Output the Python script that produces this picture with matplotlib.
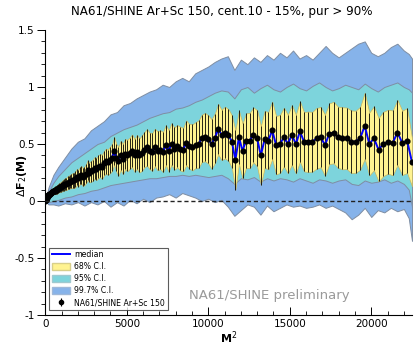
import numpy as np
import matplotlib
matplotlib.use("Agg")
import matplotlib.pyplot as plt
from matplotlib.lines import Line2D
from matplotlib.patches import Patch

# ---- data ----
m_bins = np.arange(1, 151)          # number of bins per dimension M
f2_data = [
    0.00, 0.005, 0.01, 0.01, 0.015, 0.02, 0.02, 0.025, 0.03, 0.035,
    0.04, 0.045, 0.05, 0.05, 0.055, 0.06, 0.065, 0.07, 0.07, 0.075,
    0.08, 0.085, 0.09, 0.09, 0.095, 0.10, 0.10, 0.11, 0.115, 0.12,
    0.125, 0.13, 0.14, 0.14, 0.15, 0.15, 0.16, 0.165, 0.17, 0.175,
    0.18, 0.18, 0.19, 0.21, 0.20, 0.22, 0.23, 0.21, 0.22, 0.24,
    0.27, 0.25, 0.26, 0.27, 0.29, 0.28, 0.30, 0.31, 0.30, 0.33,
    0.35, 0.34, 0.36, 0.38, 0.44, 0.38, 0.35, 0.40, 0.37, 0.41,
    0.40, 0.42, 0.44, 0.40, 0.43, 0.40, 0.42, 0.45, 0.47, 0.44,
    0.43, 0.47, 0.44, 0.45, 0.43, 0.49, 0.44, 0.50, 0.46, 0.48,
    0.46, 0.45, 0.51, 0.48, 0.47, 0.49, 0.50, 0.55, 0.56, 0.54,
    0.50, 0.55, 0.63, 0.58, 0.60, 0.58, 0.52, 0.36, 0.56, 0.44,
    0.53, 0.53, 0.58, 0.55, 0.40, 0.54, 0.53, 0.62, 0.49, 0.50,
    0.56, 0.50, 0.58, 0.50, 0.61, 0.52, 0.52, 0.52, 0.55, 0.56,
    0.49, 0.59, 0.60, 0.56, 0.55, 0.55, 0.52, 0.52, 0.55, 0.66,
    0.50, 0.55, 0.45, 0.50, 0.52, 0.51, 0.60, 0.51, 0.53, 0.34,
]
f2_err = [
    0.003, 0.004, 0.005, 0.006, 0.007, 0.008, 0.009, 0.010, 0.011, 0.012,
    0.013, 0.014, 0.015, 0.016, 0.018, 0.019, 0.020, 0.022, 0.023, 0.025,
    0.026, 0.028, 0.030, 0.031, 0.033, 0.035, 0.036, 0.038, 0.040, 0.042,
    0.044, 0.046, 0.048, 0.050, 0.052, 0.054, 0.056, 0.058, 0.060, 0.062,
    0.064, 0.066, 0.069, 0.070, 0.073, 0.074, 0.077, 0.078, 0.081, 0.082,
    0.086, 0.087, 0.090, 0.091, 0.095, 0.096, 0.100, 0.101, 0.105, 0.106,
    0.110, 0.111, 0.116, 0.117, 0.122, 0.121, 0.128, 0.127, 0.133, 0.133,
    0.138, 0.137, 0.143, 0.143, 0.149, 0.149, 0.155, 0.154, 0.160, 0.160,
    0.165, 0.164, 0.171, 0.170, 0.176, 0.175, 0.182, 0.181, 0.186, 0.185,
    0.192, 0.191, 0.196, 0.196, 0.202, 0.201, 0.207, 0.207, 0.212, 0.211,
    0.217, 0.217, 0.222, 0.221, 0.227, 0.226, 0.231, 0.260, 0.234, 0.240,
    0.238, 0.243, 0.241, 0.246, 0.258, 0.248, 0.252, 0.252, 0.256, 0.254,
    0.258, 0.256, 0.261, 0.258, 0.264, 0.260, 0.265, 0.262, 0.266, 0.264,
    0.268, 0.266, 0.270, 0.268, 0.272, 0.270, 0.274, 0.272, 0.276, 0.290,
    0.276, 0.280, 0.278, 0.282, 0.280, 0.284, 0.286, 0.282, 0.284, 0.210,
]
f2_median = list(f2_data)

band_x = [0, 200, 500, 800, 1200, 1600, 2000, 2400, 2800, 3200, 3600, 4000,
          4400, 4800, 5200, 5600, 6000, 6400, 6800, 7200, 7600, 8000, 8400,
          8800, 9200, 9600, 10000, 10400, 10800, 11200, 11600, 12000, 12400,
          12800, 13200, 13600, 14000, 14400, 14800, 15200, 15600, 16000,
          16400, 16800, 17200, 17600, 18000, 18400, 18800, 19200, 19600,
          20000, 20400, 20800, 21200, 21600, 22000, 22300, 22500]
ci997_hi = [0, 0.12, 0.23, 0.30, 0.38, 0.46, 0.52, 0.55, 0.62, 0.66, 0.70, 0.76,
            0.78, 0.84, 0.86, 0.90, 0.93, 0.96, 0.98, 1.02, 1.00, 1.05, 1.08,
            1.05, 1.12, 1.15, 1.18, 1.22, 1.25, 1.27, 1.15, 1.24, 1.20, 1.26,
            1.22, 1.28, 1.24, 1.30, 1.26, 1.32, 1.25, 1.28, 1.24, 1.30, 1.36,
            1.30, 1.26, 1.30, 1.34, 1.38, 1.40, 1.30, 1.27, 1.30, 1.35, 1.38,
            1.32, 1.29, 1.25]
ci95_hi = [0, 0.08, 0.16, 0.22, 0.28, 0.34, 0.38, 0.42, 0.46, 0.50, 0.52, 0.57,
           0.60, 0.63, 0.65, 0.67, 0.70, 0.73, 0.75, 0.77, 0.78, 0.81, 0.82,
           0.84, 0.87, 0.89, 0.92, 0.95, 0.97, 0.96, 0.90, 0.98, 1.00, 0.95,
           0.99, 1.02, 0.98, 0.96, 1.00, 1.03, 0.99, 0.97, 1.01, 1.04, 1.00,
           0.97, 0.99, 1.02, 1.00, 0.98, 1.03, 0.99, 0.96, 1.00, 1.02, 1.04,
           1.00, 0.98, 0.95]
ci95_lo = [0, -0.01, 0.0, 0.01, 0.03, 0.04, 0.06, 0.07, 0.09, 0.10, 0.12, 0.14,
           0.15, 0.16, 0.17, 0.18, 0.19, 0.20, 0.20, 0.21, 0.22, 0.22, 0.23,
           0.22, 0.23, 0.22, 0.21, 0.22, 0.23, 0.20, 0.15, 0.20, 0.19, 0.21,
           0.17, 0.20, 0.18, 0.20, 0.19, 0.17, 0.20, 0.18, 0.16, 0.19, 0.18,
           0.16, 0.18, 0.19, 0.15, 0.14, 0.18, 0.16, 0.17, 0.19, 0.16, 0.18,
           0.15, 0.10, -0.05]
ci997_lo = [0, -0.03, -0.03, -0.04, -0.02, -0.03, -0.01, -0.04, -0.01, -0.03,
            0.0, -0.05, -0.01, -0.04, 0.01, -0.02, 0.02, -0.01, 0.03, 0.04,
            0.06, 0.03, 0.07, 0.05, 0.03, 0.0, 0.02, -0.01, 0.01, -0.05, -0.13,
            -0.08, -0.03, -0.05, -0.12, -0.04, -0.09, -0.06, -0.03, -0.05,
            -0.04, -0.06, -0.05, -0.03, -0.06, -0.04, -0.07, -0.10, -0.16,
            -0.12, -0.06, -0.14, -0.08, -0.10, -0.06, -0.09, -0.07, -0.15, -0.35]

title = "NA61/SHINE Ar+Sc 150, cent.10 - 15%, pur > 90%"

# ---- styling ----
c_yellow = "#fff391"
c_cyan = "#7dd4dc"
c_blue = "#86b3ea"
c_edge = "#7f8ea3"

plt.rcParams['font.family'] = ['DejaVu Sans']
fig = plt.figure(figsize=(4.2, 3.51), dpi=100)
ax = fig.add_axes([45.3 / 420, 36 / 351, 366.7 / 420, 285 / 351])

x = m_bins ** 2
f2 = np.array(f2_data)
err = np.array(f2_err)

ax.fill_between(band_x, ci997_lo, ci997_hi, facecolor=c_blue, edgecolor=c_edge,
                linewidth=0.7, zorder=1)
ax.fill_between(band_x, ci95_lo, ci95_hi, facecolor=c_cyan, edgecolor=c_edge,
                linewidth=0.7, zorder=2)
ax.fill_between(x, f2 - err, f2 + err, facecolor=c_yellow, edgecolor="#c8b660",
                linewidth=0.5, zorder=3)
ax.errorbar(x, f2, yerr=err, fmt="none", ecolor="black", elinewidth=0.6,
            capsize=0, zorder=4)
ax.plot(x, f2_median, color="#0000ff", lw=1.4, zorder=5)
ax.plot(x, f2, "o", color="black", ms=3.4, zorder=6)
ax.axhline(0, color="#222222", ls=(0, (3, 2)), lw=1.0, zorder=7)

ax.set_xlim(0, 22500)
ax.set_ylim(-1, 1.5)
for s in ("top", "right"):
    ax.spines[s].set_visible(False)
ax.spines["left"].set_linewidth(0.8)
ax.spines["bottom"].set_linewidth(0.8)
ax.set_xticks([0, 5000, 10000, 15000, 20000])
ax.set_xticks(np.arange(0, 22501, 1000), minor=True)
ax.set_yticks([-1, -0.5, 0, 0.5, 1, 1.5])
ax.set_yticklabels(["-1", "-0.5", "0", "0.5", "1", "1.5"])
ax.set_yticks(np.arange(-1, 1.51, 0.1), minor=True)
ax.tick_params(axis="x", which="major", direction="in", length=6, width=0.7,
               labelsize=7.5, pad=3)
ax.tick_params(axis="x", which="minor", direction="in", length=3, width=0.6)
ax.tick_params(axis="y", which="major", direction="out", length=6, width=0.7,
               labelsize=7.5, pad=1.5)
ax.tick_params(axis="y", which="minor", direction="out", length=3, width=0.6)

ax.set_xlabel("M$^2$", fontsize=8, fontweight="bold", labelpad=0)
fig.text(22 / 420, 1 - 176 / 351, r"$\Delta$F$_2$(M)", rotation=90,
         fontsize=8, fontweight="bold", ha="center", va="center")
fig.text(222 / 420, 1 - 11 / 351, title, fontsize=8.6, ha="center", va="center")
ax.text(0.61, 0.067, "NA61/SHINE preliminary", transform=ax.transAxes,
        fontsize=9.5, color="#9a9a9a", ha="center", va="center")

eb = ax.errorbar([], [], yerr=[], fmt="o", color="black", ms=3, elinewidth=0.8)
handles = [
    Line2D([], [], color="#0000ff", lw=1.4),
    Patch(facecolor=c_yellow, edgecolor="#d8cf8a"),
    Patch(facecolor=c_cyan, edgecolor="#9fc9cf"),
    Patch(facecolor=c_blue, edgecolor="#9fb8d8"),
    eb,
]
labels = ["median", "68% C.I.", "95% C.I.", "99.7% C.I.", "NA61/SHINE Ar+Sc 150"]
leg = ax.legend(handles, labels, loc="lower left", bbox_to_anchor=(0.01, 0.018),
                borderaxespad=0, fontsize=5.6, frameon=True, fancybox=False,
                edgecolor="#333333", handlelength=2.3, handleheight=1.0,
                labelspacing=0.38, borderpad=0.35, handletextpad=0.6)
leg.get_frame().set_linewidth(0.8)
leg.set_zorder(10)

fig.savefig("out.png", dpi=100)
